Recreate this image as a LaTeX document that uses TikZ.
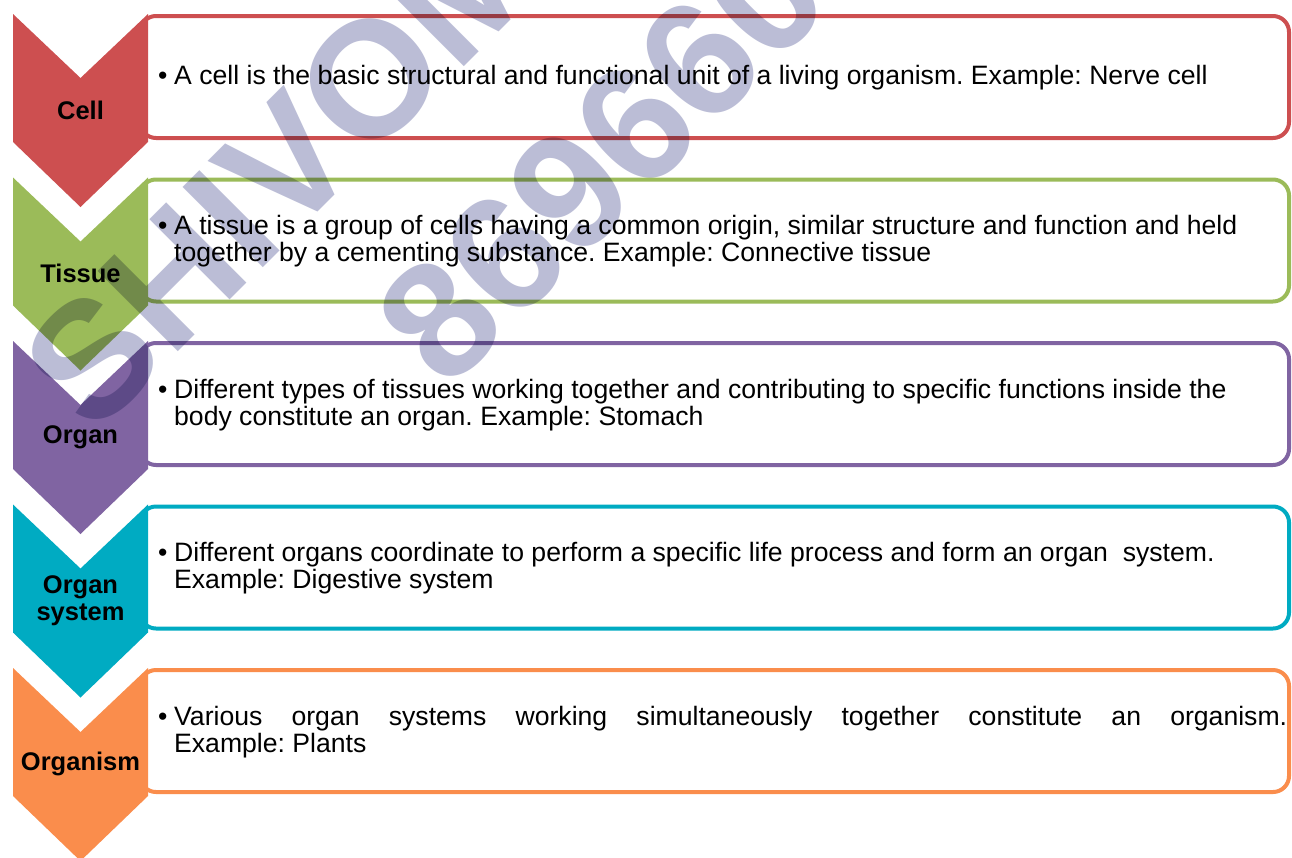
\documentclass[tikz,border=0pt]{standalone}
\usepackage{fontspec}
\setmainfont{Liberation Sans}
\usetikzlibrary{calc}

\definecolor{cellred}{HTML}{CD4F50}
\definecolor{tissuegreen}{HTML}{9BBB59}
\definecolor{organpurple}{HTML}{8064A2}
\definecolor{systemteal}{HTML}{00ABC2}
\definecolor{organismorange}{HTML}{FA8D4C}
\definecolor{wmark}{HTML}{BBBDD6}

\tikzset{
  descbox/.style={line width=4pt, fill=white, rounded corners=16pt},
  desc/.style={anchor=west, inner sep=0pt, align=left, text=black,
    font=\fontsize{26.6}{27}\selectfont\frenchspacing},
  lbl/.style={inner sep=0pt, align=center, text=black,
    font=\fontsize{25.5}{27}\selectfont\bfseries},
  wmtext/.style={inner sep=0pt, rotate=45, text=wmark,
    font=\fontsize{165}{165}\selectfont\bfseries}
}

\newcommand{\bul}{\makebox[16pt][l]{•}}
\newcommand{\ind}{\makebox[16pt][l]{}}

% one level of the hierarchy: #1 top edge, #2 colour, #3 name, #4 label, #5 description
\newcommand{\level}[5]{%
  \draw[descbox, draw=#2] (140,#1+2) rectangle (1289,#1+124);
  \fill[#2] (13,#1) -- (80.5,#1+64) -- (148,#1) -- (148,#1+128)
     -- (80.5,#1+193) -- (13,#1+128) -- cycle;
  \node[lbl] (#3-label) at (80.5,#1+96) {#4};
  \node[desc] (#3-text) at (158,#1+64) {#5};
}

\begin{document}
\begin{tikzpicture}[x=1pt,y=-1pt]
  \useasboundingbox (0,0) rectangle (1292,857);
  \clip (0,0) rectangle (1292,857);
  \fill[white] (0,0) rectangle (1292,857);

  \level{14}{cellred}{cell}{Cell}
    {\bul A cell is the basic structural and functional unit of a living organism. Example: Nerve cell}
  \level{177.5}{tissuegreen}{tissue}{Tissue}
    {\bul A tissue is a group of cells having a common origin, similar structure and function and held\\
     \ind together by a cementing substance. Example: Connective tissue}
  \level{341}{organpurple}{organ}{Organ}
    {\bul Different types of tissues working together and contributing to specific functions inside the\\
     \ind body constitute an organ. Example: Stomach}
  \level{504.5}{systemteal}{system}{Organ\\system}
    {\bul Different organs coordinate to perform a specific life process and form an organ~ system.\\
     \ind Example: Digestive system}
  \level{668}{organismorange}{organism}{Organism}
    {\bul\hbox to 1113pt{Various\hfill organ\hfill systems\hfill working\hfill simultaneously\hfill
       together\hfill constitute\hfill an\hfill organism.}\\
     \ind Example: Plants}

  % watermark laid over the chart
  \begin{scope}[blend mode=multiply]
    \node[wmtext] (wm-name) at (283,167) {SHIVOM};
    \node[wmtext] (wm-phone) at (602,158) {869660};
  \end{scope}
\end{tikzpicture}
\end{document}
